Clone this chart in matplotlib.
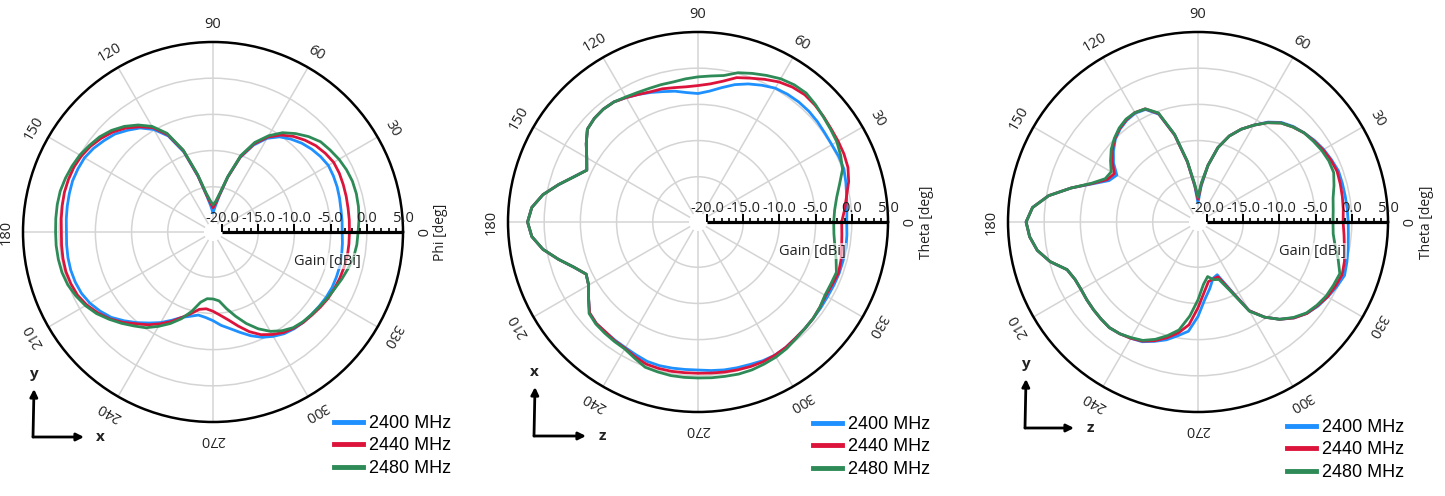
import matplotlib.pyplot as plt
import numpy as np

plt.rcParams["font.family"] = ["Open Sans", "DejaVu Sans"]

freq_labels = ["2400 MHz", "2440 MHz", "2480 MHz"]
line_colors = ["#1e90ff", "#dc143c", "#2e8b57"]

# angle of every sample, 5 deg steps
angles_deg = list(range(0, 360, 5))

# xy plane (phi cut)
phi_2400 = [-3.4, -3.35, -3.3, -3.15, -3.0, -2.9, -2.85, -3.1, -3.45, -3.9, -4.5, -5.2,
            -6.3, -8.0, -10.3, -13.4, -16.1, -17.7, -18.6, -17.6, -16.1, -13.3, -9.5, -6.6,
            -4.9, -3.7, -2.9, -2.1, -1.6, -1.1, -0.75, -0.65, -0.6, -0.7, -0.8, -0.9,
            -1.0, -0.95, -0.9, -0.9, -1.0, -1.2, -1.6, -2.2, -2.9, -3.9, -4.9, -5.9,
            -6.8, -7.8, -8.7, -9.2, -9.6, -9.4, -9.0, -8.3, -7.7, -6.9, -6.0, -5.2,
            -4.6, -4.1, -3.8, -3.6, -3.5, -3.35, -3.2, -3.1, -3.1, -3.1, -3.2, -3.3]
phi_2440 = [-2.4, -2.35, -2.3, -2.2, -2.1, -2.0, -2.0, -2.3, -2.7, -3.3, -4.0, -4.9,
            -6.1, -7.8, -10.2, -13.4, -16.0, -17.3, -17.9, -17.2, -16.0, -13.2, -9.3, -6.4,
            -4.6, -3.5, -2.5, -1.7, -1.1, -0.6, -0.25, -0.05, 0.0, 0.0, -0.1, -0.2,
            -0.3, -0.25, -0.2, -0.2, -0.35, -0.6, -1.1, -1.8, -2.6, -3.6, -4.7, -5.6,
            -6.6, -7.6, -8.7, -9.6, -10.4, -10.6, -10.3, -9.7, -8.9, -7.8, -6.6, -5.6,
            -4.9, -4.3, -3.9, -3.6, -3.4, -3.15, -2.9, -2.75, -2.6, -2.5, -2.4, -2.4]
phi_2480 = [-1.2, -1.0, -0.85, -0.75, -0.75, -0.9, -1.15, -1.5, -1.85, -2.6, -3.5, -4.5,
            -5.9, -7.6, -10.0, -13.3, -15.8, -17.0, -17.5, -16.9, -15.8, -13.0, -9.2, -6.2,
            -4.4, -3.2, -2.2, -1.4, -0.8, -0.4, 0.0, 0.25, 0.45, 0.6, 0.6, 0.55,
            0.5, 0.5, 0.45, 0.35, 0.1, -0.35, -0.9, -1.6, -2.5, -3.4, -4.3, -5.1,
            -6.2, -7.3, -8.5, -9.9, -11.4, -12.0, -12.0, -11.7, -10.5, -9.2, -7.8, -6.5,
            -5.4, -4.6, -4.0, -3.7, -3.5, -3.3, -3.0, -2.7, -2.3, -1.9, -1.5, -1.3]

# xz plane (theta cut)
xz_2400 = [-0.7, -0.6, -0.4, -0.1, 0.2, 0.2, 0.1, 0.15, 0.3, 0.4, 0.4, 0.3,
           0.1, -0.4, -0.95, -1.6, -2.4, -3.1, -3.5, -3.3, -2.9, -2.6, -2.2, -1.8,
           -1.4, -1.0, -0.9, -1.0, -1.3, -2.4, -3.5, -4.3, -3.0, -1.3, 0.5, 1.8,
           2.3, 1.8, 0.5, -1.3, -3.0, -4.2, -3.8, -2.8, -1.7, -1.4, -1.4, -1.3,
           -1.2, -1.0, -0.75, -0.7, -0.75, -0.8, -0.8, -0.65, -0.5, -0.4, -0.3, -0.1,
           0.0, -0.1, -0.3, -0.4, -0.5, -0.55, -0.6, -0.55, -0.5, -0.5, -0.5, -0.6]
xz_2440 = [-1.4, -0.9, -0.4, 0.3, 0.8, 1.0, 1.1, 1.2, 1.4, 1.6, 1.7, 1.5,
           1.1, 0.5, -0.1, -0.6, -1.5, -2.1, -2.4, -2.5, -2.4, -2.2, -2.1, -1.8,
           -1.4, -1.0, -0.9, -1.0, -1.3, -2.4, -3.5, -4.3, -3.0, -1.3, 0.5, 1.8,
           2.3, 1.8, 0.5, -1.3, -3.0, -4.2, -3.8, -2.8, -1.7, -1.4, -1.4, -1.2,
           -1.1, -0.7, -0.35, -0.3, -0.3, -0.35, -0.35, -0.3, -0.2, -0.1, 0.0, 0.05,
           0.0, -0.1, -0.3, -0.4, -0.5, -0.7, -0.9, -0.8, -0.6, -0.8, -1.1, -1.3]
xz_2480 = [-2.5, -2.3, -1.8, -1.0, 0.0, 0.5, 0.9, 1.1, 1.35, 1.7, 2.0, 1.9,
           1.6, 1.1, 0.6, 0.1, -0.7, -1.0, -1.2, -1.4, -1.6, -1.6, -1.6, -1.5,
           -1.3, -1.0, -0.9, -1.0, -1.3, -2.4, -3.5, -4.3, -3.0, -1.3, 0.5, 1.8,
           2.3, 1.8, 0.5, -1.3, -3.0, -4.2, -3.8, -2.8, -1.6, -1.3, -1.2, -1.1,
           -1.0, -0.5, 0.1, 0.2, 0.3, 0.3, 0.3, 0.35, 0.4, 0.5, 0.5, 0.4,
           0.3, 0.1, -0.2, -0.4, -0.5, -0.7, -1.0, -1.0, -0.9, -1.5, -2.05, -2.4]

# yz plane (theta cut)
yz_2400 = [-0.5, -0.55, -0.6, -0.6, -0.6, -0.9, -1.2, -1.6, -2.1, -2.6, -3.3, -4.4,
           -5.8, -7.1, -8.6, -10.6, -13.3, -16.3, -18.6, -16.3, -12.8, -8.8, -5.4, -4.1,
           -3.9, -4.1, -4.5, -5.1, -6.0, -7.0, -8.3, -7.7, -5.8, -3.1, -0.3, 1.7,
           2.5, 2.1, 1.3, -0.1, -2.0, -2.5, -2.6, -2.5, -2.4, -2.3, -2.2, -2.4,
           -2.7, -3.0, -3.7, -4.4, -5.3, -6.1, -8.2, -10.5, -11.9, -13.2, -13.5, -11.2,
           -7.1, -5.2, -3.7, -2.5, -1.6, -1.0, -0.55, -0.1, 0.3, 0.05, -0.2, -0.4]
yz_2440 = [-1.2, -1.1, -1.0, -0.9, -0.8, -1.0, -1.3, -1.7, -2.1, -2.7, -3.4, -4.5,
           -5.8, -7.1, -8.6, -10.6, -13.3, -16.0, -18.1, -16.2, -12.8, -8.8, -5.3, -4.0,
           -3.8, -4.0, -4.4, -5.0, -5.8, -6.8, -7.9, -7.4, -5.7, -3.1, -0.3, 1.7,
           2.5, 2.1, 1.3, -0.1, -2.0, -2.5, -2.6, -2.5, -2.4, -2.3, -2.2, -2.4,
           -2.7, -3.1, -3.8, -4.7, -5.7, -7.0, -9.4, -11.5, -12.9, -13.1, -13.2, -11.0,
           -7.1, -5.2, -3.7, -2.5, -1.6, -1.1, -0.6, -0.3, -0.05, -0.3, -0.7, -1.0]
yz_2480 = [-2.6, -2.5, -2.3, -1.8, -1.3, -1.3, -1.5, -1.8, -2.1, -2.7, -3.4, -4.5,
           -5.8, -7.1, -8.6, -10.6, -13.3, -15.8, -17.8, -16.0, -12.7, -8.7, -5.2, -4.0,
           -3.8, -3.9, -4.3, -4.9, -5.6, -6.5, -7.4, -7.1, -5.6, -3.1, -0.3, 1.7,
           2.5, 2.1, 1.3, -0.1, -2.0, -2.5, -2.6, -2.5, -2.4, -2.3, -2.2, -2.4,
           -2.8, -3.2, -4.0, -5.0, -6.1, -8.2, -10.5, -12.6, -13.6, -13.0, -12.8, -10.8,
           -7.0, -5.2, -3.7, -2.6, -1.7, -1.2, -0.8, -0.6, -0.4, -1.2, -2.0, -2.5]

angle_ticks = list(range(0, 360, 30))
gain_major = [-20, -15, -10, -5, 0, 5]
gain_minor = list(range(-20, 6))
gain_rings = [-15, -10, -5, 0]

W, H = 1445, 496
R = 190  # outer circle radius in pixels
PX_PER_DB = R / 26.25

fig = plt.figure(figsize=(W / 100, H / 100), dpi=100)


def draw_panel(cx, cy, curves, angle_name, legend_xy, frame):
    ax = fig.add_axes([(cx - R) / W, (H - cy - R) / H, 2 * R / W, 2 * R / H],
                      projection="polar")
    th = np.deg2rad(np.append(angles_deg, angles_deg[0]))
    for vals, c, lab in zip(curves, line_colors, freq_labels):
        ax.plot(th, np.append(vals, vals[0]), color=c, lw=2.0, label=lab, zorder=3)

    ax.set_ylim(-20, 5)
    ax.set_rorigin(-21.25)
    ax.set_rticks(gain_rings)
    ax.set_yticklabels([])
    ax.set_thetagrids(angle_ticks, labels=[])
    ax.grid(color="#d4d4d4", lw=1.1)
    ax.tick_params(axis="y", length=0)
    ax.tick_params(axis="x", direction="inout", length=7, width=1.3, colors="k")
    ax.spines["polar"].set_linewidth(1.8)
    ax.spines["inner"].set_linewidth(0)

    r_lab = 5 + 17 / PX_PER_DB
    for a in angle_ticks:
        ax.text(np.deg2rad(a), r_lab, str(a), rotation=a - 90, rotation_mode="anchor",
                ha="center", va="center", fontsize=10.5, color="#222222")
    ax.text(0, 5 + 38 / PX_PER_DB, angle_name, rotation=90, rotation_mode="anchor",
            ha="center", va="center", fontsize=10, color="#222222")

    # gain scale along 0 deg
    ax.plot([0, 0], [-20, 5], color="k", lw=2.3, zorder=6, solid_capstyle="butt")
    ax.plot(np.zeros(len(gain_minor)), gain_minor, ls="none", marker=2, ms=3.2,
            mew=1.2, color="k", zorder=6, clip_on=False)
    ax.plot(np.zeros(len(gain_major)), gain_major, ls="none", marker=2, ms=5.5,
            mew=1.4, color="k", zorder=6, clip_on=False)
    for g in gain_major:
        ax.annotate(f"{g:.1f}", xy=(0, g), xytext=(0, 14), textcoords="offset pixels",
                    ha="center", va="center", fontsize=10.5, color="#222222", zorder=7,
                    annotation_clip=False)
    ax.annotate("Gain [dBi]", xy=(0, -5.4), xytext=(0, -29), textcoords="offset pixels",
                ha="center", va="center", fontsize=10.5, color="#222222", zorder=7,
                annotation_clip=False,
                bbox=dict(boxstyle="square,pad=0.05", fc="white", ec="none", alpha=0.6))

    leg = ax.legend(loc="upper left", bbox_to_anchor=(legend_xy[0] / W, (H - legend_xy[1]) / H),
                    bbox_transform=fig.transFigure, frameon=False,
                    prop={"family": "Liberation Sans", "size": 13},
                    handlelength=1.6, handletextpad=0.35, labelspacing=0.3,
                    borderpad=0, borderaxespad=0)
    for ln in leg.get_lines():
        ln.set_linewidth(3.5)

    # coordinate frame arrows
    (x0, y0), top_y, right_x, up_label, right_label = frame
    arrow = dict(arrowstyle="-|>", lw=2, color="k", mutation_scale=11, shrinkA=0, shrinkB=0)
    fig_pt = lambda x, y: (x, H - y)
    ax.annotate("", xy=fig_pt(x0, top_y), xytext=fig_pt(x0 - 1, y0),
                xycoords="figure pixels", textcoords="figure pixels", arrowprops=arrow)
    ax.annotate("", xy=fig_pt(right_x, y0), xytext=fig_pt(x0 - 1, y0),
                xycoords="figure pixels", textcoords="figure pixels", arrowprops=arrow)
    ax.annotate(up_label, xy=fig_pt(x0 - 1, top_y - 15), xycoords="figure pixels",
                ha="center", va="center", fontsize=11, fontweight="bold", color="#222222")
    ax.annotate(right_label, xy=fig_pt(right_x + 16, y0), xycoords="figure pixels",
                ha="center", va="center", fontsize=11, fontweight="bold", color="#222222")
    return ax


draw_panel(213, 232, [phi_2400, phi_2440, phi_2480], "Phi [deg]",
           (334, 415), ((34, 437), 389, 84, "y", "x"))
draw_panel(698, 222, [xz_2400, xz_2440, xz_2480], "Theta [deg]",
           (813, 416), ((535, 436), 387, 586, "x", "z"))
draw_panel(1198, 222, [yz_2400, yz_2440, yz_2480], "Theta [deg]",
           (1287, 419), ((1026, 428), 379, 1074, "y", "z"))

fig.savefig("out.png", dpi=100)
